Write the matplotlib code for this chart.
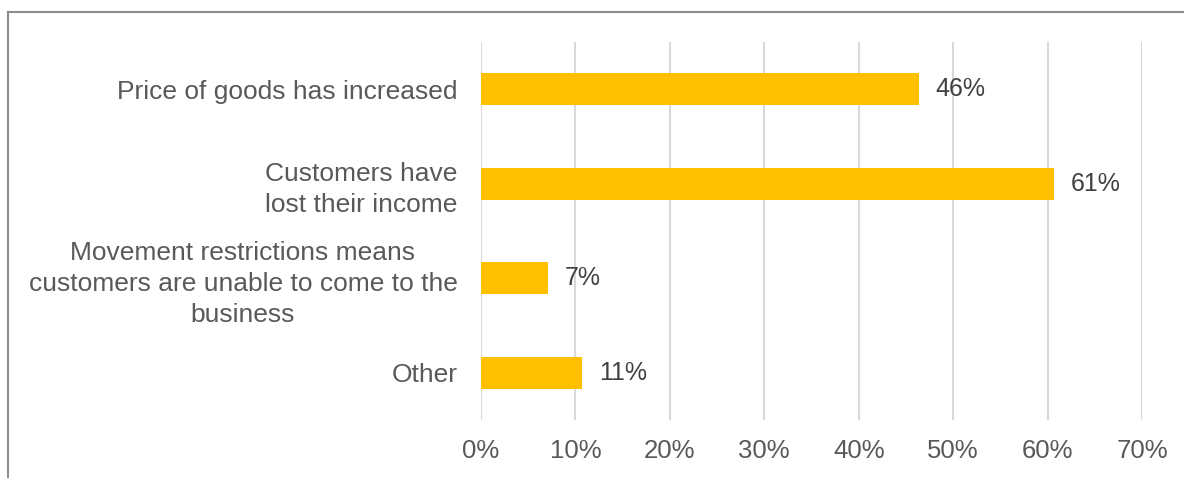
import matplotlib.pyplot as plt
from matplotlib.lines import Line2D

plt.rcParams['font.family'] = ['Liberation Sans', 'DejaVu Sans']

categories = ["Price of goods has increased",
              "Customers have\nlost their income",
              "Movement restrictions means\ncustomers are unable to come to the\nbusiness",
              "Other"]
values = [46.4, 60.7, 7.1, 10.7]
labels = ["46%", "61%", "7%", "11%"]
xticks = [0, 10, 20, 30, 40, 50, 60, 70]

text_col = "#595959"

fig = plt.figure(figsize=(11.84, 4.78), dpi=100)
ax = fig.add_axes([481/1184, 1-420/478, (1142-481)/1184, (420-42)/478])

pos = list(range(len(categories)))
ax.barh(pos, values, height=0.34, color="#FFC000", zorder=3)
for p, v, l in zip(pos, values, labels):
    ax.annotate(l, (v, p), xytext=(12, 0), textcoords="offset points",
                va="center", ha="left", fontsize=18, color="#404040")

ax.set_ylim(len(categories)-0.5, -0.5)
ax.set_xlim(0, 70)
ax.set_xticks(xticks)
ax.set_xticklabels([f"{t}%" for t in xticks])
ax.set_yticks(pos)
ax.set_yticklabels(categories, multialignment="center", linespacing=1.35)
ax.tick_params(axis="x", length=0, labelsize=18.5, colors=text_col, pad=14)
ax.tick_params(axis="y", length=0, labelsize=19, colors=text_col, pad=17)
ax.grid(axis="x", color="#D9D9D9", linewidth=1.5, zorder=0)
for s in ax.spines.values():
    s.set_visible(False)

# outer frame (top and left edges visible)
y_top = 1 - 12/478
x_left = 7.5/1184
fig.add_artist(Line2D([x_left, 1], [y_top, y_top], transform=fig.transFigure,
                      color="#8C8C8C", linewidth=1.5))
fig.add_artist(Line2D([x_left, x_left], [0, y_top], transform=fig.transFigure,
                      color="#8C8C8C", linewidth=1.5))

fig.savefig("out.png", dpi=100)
